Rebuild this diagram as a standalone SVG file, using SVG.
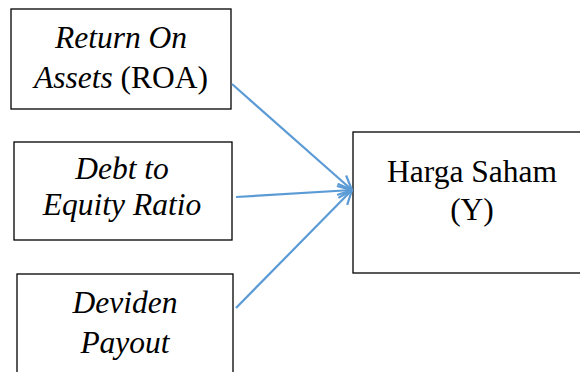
<svg xmlns="http://www.w3.org/2000/svg" width="580" height="372" viewBox="0 0 580 372">
<style>
.box{fill:#fff;stroke:#000;stroke-width:1.3}
.t{font-family:"Liberation Serif","Times New Roman",serif;font-size:31.5px;fill:#000;text-anchor:middle}
.i{font-style:italic}
.c{fill:none;stroke:#5B9BD5;stroke-width:2.2}
</style>
<defs>
<marker id="ah" viewBox="0 0 16 16" refX="15" refY="8" markerWidth="16" markerHeight="16" markerUnits="userSpaceOnUse" orient="auto">
<path d="M1,1 L15,8 L1,15" fill="none" stroke="#5B9BD5" stroke-width="2.2"/>
</marker>
</defs>
<rect width="580" height="372" fill="#fff"/>
<g id="roa">
<rect class="box" x="11" y="9" width="220" height="100"/>
<text class="t i" x="121" y="48">Return On</text>
<text class="t" x="121" y="88"><tspan class="i">Assets</tspan> (ROA)</text>
</g>
<g id="der">
<rect class="box" x="14" y="142" width="218" height="98"/>
<text class="t i" x="122" y="179">Debt to</text>
<text class="t i" x="122" y="215">Equity Ratio</text>
</g>
<g id="dpr">
<rect class="box" x="17" y="274" width="216" height="110"/>
<text class="t i" x="125" y="313">Deviden</text>
<text class="t i" x="125" y="353">Payout</text>
</g>
<g id="harga">
<rect class="box" x="353" y="132" width="238" height="141"/>
<text class="t" x="472" y="182">Harga Saham</text>
<text class="t" x="472" y="220">(Y)</text>
</g>
<g id="connectors">
<line class="c" x1="232" y1="84" x2="352" y2="190" marker-end="url(#ah)"/>
<line class="c" x1="236" y1="197" x2="352" y2="190" marker-end="url(#ah)"/>
<line class="c" x1="236" y1="308" x2="352" y2="190" marker-end="url(#ah)"/>
</g>
</svg>
